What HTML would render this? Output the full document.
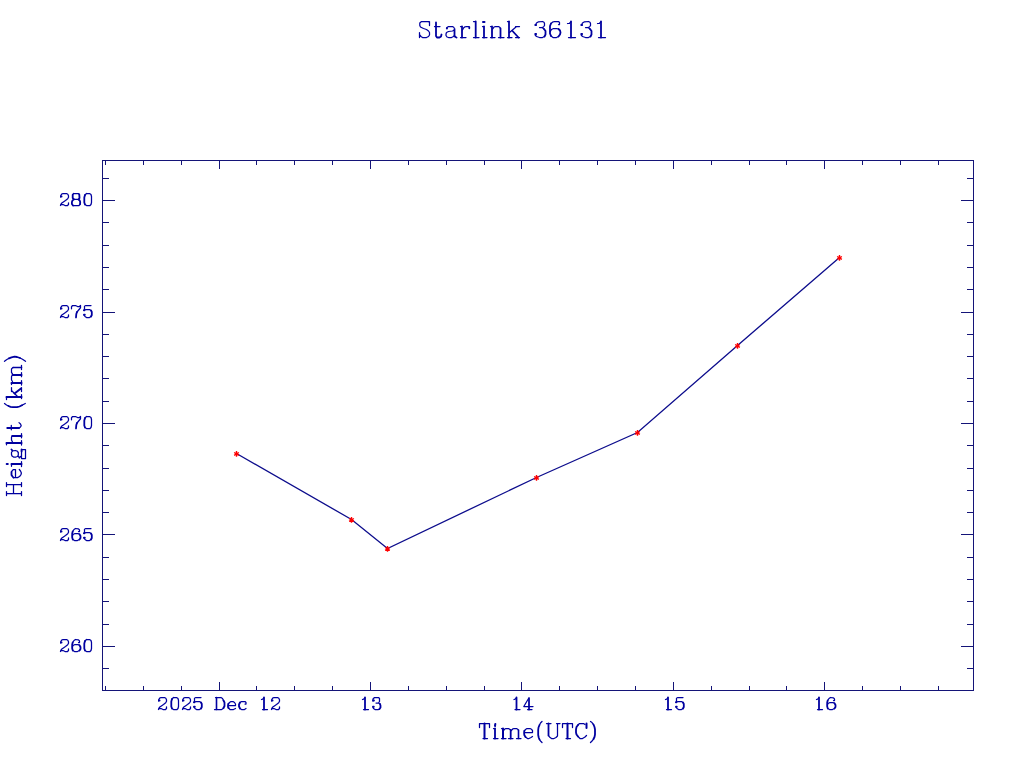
<!DOCTYPE html>
<html><head><meta charset="utf-8"><style>
html,body{margin:0;padding:0;background:#fff;width:1024px;height:768px;overflow:hidden}
svg{display:block}
</style></head><body>
<svg width="1024" height="768" viewBox="0 0 1024 768">
<rect width="1024" height="768" fill="#fff"/>
<path d="M102.5 160.5H973.5V690.5H102.5ZM105.5 691V686M105.5 160V165M143.5 691V686M143.5 160V165M181.5 691V686M181.5 160V165M219.5 691V682M219.5 160V169M256.5 691V686M256.5 160V165M294.5 691V686M294.5 160V165M332.5 691V686M332.5 160V165M370.5 691V682M370.5 160V169M408.5 691V686M408.5 160V165M446.5 691V686M446.5 160V165M484.5 691V686M484.5 160V165M521.5 691V682M521.5 160V169M559.5 691V686M559.5 160V165M597.5 691V686M597.5 160V165M635.5 691V686M635.5 160V165M673.5 691V682M673.5 160V169M711.5 691V686M711.5 160V165M749.5 691V686M749.5 160V165M786.5 691V686M786.5 160V165M824.5 691V682M824.5 160V169M862.5 691V686M862.5 160V165M900.5 691V686M900.5 160V165M938.5 691V686M938.5 160V165M102 178.5H109M974 178.5H967M102 200.5H115M974 200.5H961M102 222.5H109M974 222.5H967M102 245.5H109M974 245.5H967M102 267.5H109M974 267.5H967M102 289.5H109M974 289.5H967M102 312.5H115M974 312.5H961M102 334.5H109M974 334.5H967M102 356.5H109M974 356.5H967M102 378.5H109M974 378.5H967M102 401.5H109M974 401.5H967M102 423.5H115M974 423.5H961M102 445.5H109M974 445.5H967M102 468.5H109M974 468.5H967M102 490.5H109M974 490.5H967M102 512.5H109M974 512.5H967M102 534.5H115M974 534.5H961M102 557.5H109M974 557.5H967M102 579.5H109M974 579.5H967M102 601.5H109M974 601.5H967M102 624.5H109M974 624.5H967M102 646.5H115M974 646.5H961M102 668.5H109M974 668.5H967" stroke="#141478" stroke-width="1" fill="none" shape-rendering="crispEdges"/>
<polyline points="236.5,453.5 351.5,519.5 387.5,548.5 536.5,477.5 637.5,432.5 737.5,345.5 839.5,257.5" fill="none" stroke="#0c0c8c" stroke-width="1.3"/>
<path d="M236.5 451.09999999999997V456.7M234.1 452.5L238.9 455.29999999999995M234.1 455.29999999999995L238.9 452.5M351.5 517.1V522.6999999999999M349.1 518.5L353.9 521.3M349.1 521.3L353.9 518.5M387.5 546.1V551.6999999999999M385.1 547.5L389.9 550.3M385.1 550.3L389.9 547.5M536.5 475.09999999999997V480.7M534.1 476.5L538.9 479.29999999999995M534.1 479.29999999999995L538.9 476.5M637.5 430.09999999999997V435.7M635.1 431.5L639.9 434.29999999999995M635.1 434.29999999999995L639.9 431.5M737.5 343.09999999999997V348.7M735.1 344.5L739.9 347.29999999999995M735.1 347.29999999999995L739.9 344.5M839.5 255.09999999999997V260.7M837.1 256.5L841.9 259.29999999999995M837.1 259.29999999999995L841.9 256.5" stroke="#ff0000" stroke-width="1.4" fill="none"/>
<g fill="none" stroke="#0000a0" stroke-linecap="round" stroke-linejoin="round"><path d="M429.50 21.50L429.50 25.50M429.50 22.50L428.50 21.50L421.50 21.50L419.80 23.00L419.80 25.50L420.50 27.00L423.50 28.50L426.50 29.50L428.50 31.00L429.50 32.50L429.50 35.00L428.50 36.50L426.50 37.50L422.50 37.50L421.00 36.50L419.80 35.00M419.50 32.50L419.50 37.50M434.50 26.50L440.00 26.50M446.50 28.50L447.00 27.50L448.50 26.50L452.50 26.50L454.00 27.50M454.50 30.00L452.50 31.00L448.50 31.50L446.50 32.50L446.00 34.00L446.00 35.50L447.00 37.00L448.50 37.50L451.50 37.50L453.50 36.50L454.50 35.50M460.50 26.50L462.00 26.50M460.50 37.50L466.00 37.50M462.50 30.00L463.50 28.00L465.00 26.80L466.50 26.50L469.00 26.50M473.50 21.50L475.50 21.50M473.50 37.50L479.00 37.50M482.50 26.50L484.00 26.50M482.50 37.50L487.00 37.50M490.50 26.50L492.00 26.50M492.50 29.00L494.00 27.00L495.50 26.50L498.50 26.50L500.00 27.50L500.50 29.00M490.50 37.50L495.00 37.50M498.50 37.50L504.00 37.50M507.50 21.50L509.00 21.50M507.50 37.50L512.00 37.50M516.00 27.00L509.50 32.50M515.50 26.50L519.50 26.50M515.50 37.50L519.50 37.50M535.50 25.00L536.50 23.00L538.50 21.80L542.50 21.50L544.00 22.30L544.50 23.50L544.50 25.50L543.50 27.00L542.00 27.50L539.50 27.50M542.00 27.50L544.00 29.00M544.50 36.50L542.50 37.50L539.50 37.50L536.50 36.50L535.20 35.00M559.50 24.50L559.50 22.50L558.50 21.50L554.50 21.50L552.50 22.20L551.00 23.50M551.00 36.00L553.00 37.50L556.50 37.50L558.50 36.50M558.50 29.00L556.50 28.50L553.50 28.50L551.50 29.50L550.30 31.50M558.50 24.50L559.50 24.50M567.50 23.50L569.50 23.30L571.00 21.80M568.50 37.50L575.50 37.50M581.50 25.00L582.50 23.00L584.50 21.80L588.50 21.50L590.00 22.30L590.50 23.50L590.50 25.50L589.50 27.00L588.00 27.50L585.50 27.50M588.00 27.50L590.00 29.00M590.50 36.50L588.50 37.50L585.50 37.50L582.50 36.50L581.20 35.00M597.50 23.50L599.50 23.30L601.00 21.80M598.50 37.50L605.50 37.50M60.50 197.00L60.80 195.50L61.70 194.10L63.00 193.50L66.50 193.50L67.80 194.20L68.50 195.70L68.50 197.30L67.70 198.80L65.50 200.50L63.00 202.20L61.50 203.30L60.70 204.50L60.50 205.50M60.50 205.30L61.50 204.50L63.00 204.50L65.00 205.50L67.50 205.50L68.50 204.50L68.50 202.80M73.70 193.50L78.30 193.50L79.30 194.50M78.70 199.30L74.00 199.30M72.70 194.70L73.70 193.50M74.00 199.50L72.50 200.50M73.00 205.50L79.00 205.50L80.00 204.30M86.50 193.50L89.50 193.50L91.00 194.50L91.50 196.50L91.50 202.50L91.00 204.50L90.00 205.50L86.50 205.50L85.00 204.50M85.00 195.00L86.50 193.50M60.50 309.00L60.80 307.50L61.70 306.10L63.00 305.50L66.50 305.50L67.80 306.20L68.50 307.70L68.50 309.30L67.70 310.80L65.50 312.50L63.00 314.20L61.50 315.30L60.70 316.50L60.50 317.50M60.50 317.30L61.50 316.50L63.00 316.50L65.00 317.50L67.50 317.50L68.50 316.50L68.50 314.80M71.50 306.50L71.50 308.80M71.50 306.80L72.50 305.50L75.50 305.50L77.50 306.50L79.50 306.50L80.50 305.50M80.50 305.50L80.50 307.80L79.50 309.00M79.50 309.00L77.00 312.00M85.50 305.50L91.00 305.50M84.50 306.00L84.50 310.00M84.50 310.00L86.00 309.50L89.50 309.50L91.00 310.50M91.00 316.50L89.50 317.50L86.50 317.50L85.00 316.50L84.00 315.00M60.50 420.00L60.80 418.50L61.70 417.10L63.00 416.50L66.50 416.50L67.80 417.20L68.50 418.70L68.50 420.30L67.70 421.80L65.50 423.50L63.00 425.20L61.50 426.30L60.70 427.50L60.50 428.50M60.50 428.30L61.50 427.50L63.00 427.50L65.00 428.50L67.50 428.50L68.50 427.50L68.50 425.80M71.50 417.50L71.50 419.80M71.50 417.80L72.50 416.50L75.50 416.50L77.50 417.50L79.50 417.50L80.50 416.50M80.50 416.50L80.50 418.80L79.50 420.00M79.50 420.00L77.00 423.00M86.50 416.50L89.50 416.50L91.00 417.50L91.50 419.50L91.50 425.50L91.00 427.50L90.00 428.50L86.50 428.50L85.00 427.50M85.00 418.00L86.50 416.50M60.50 532.00L60.80 530.50L61.70 529.10L63.00 528.50L66.50 528.50L67.80 529.20L68.50 530.70L68.50 532.30L67.70 533.80L65.50 535.50L63.00 537.20L61.50 538.30L60.70 539.50L60.50 540.50M60.50 540.30L61.50 539.50L63.00 539.50L65.00 540.50L67.50 540.50L68.50 539.50L68.50 537.80M79.50 531.50L79.50 530.00L78.50 528.80L75.50 528.50L74.00 529.50L72.70 531.50M72.80 539.50L74.50 540.50L77.50 540.50L79.50 539.50M79.50 534.30L78.00 533.50L75.00 533.50L73.00 534.50L72.30 536.00M78.50 531.50L79.50 531.50M85.50 528.50L91.00 528.50M84.50 529.00L84.50 533.00M84.50 533.00L86.00 532.50L89.50 532.50L91.00 533.50M91.00 539.50L89.50 540.50L86.50 540.50L85.00 539.50L84.00 538.00M60.50 643.00L60.80 641.50L61.70 640.10L63.00 639.50L66.50 639.50L67.80 640.20L68.50 641.70L68.50 643.30L67.70 644.80L65.50 646.50L63.00 648.20L61.50 649.30L60.70 650.50L60.50 651.50M60.50 651.30L61.50 650.50L63.00 650.50L65.00 651.50L67.50 651.50L68.50 650.50L68.50 648.80M79.50 642.50L79.50 641.00L78.50 639.80L75.50 639.50L74.00 640.50L72.70 642.50M72.80 650.50L74.50 651.50L77.50 651.50L79.50 650.50M79.50 645.30L78.00 644.50L75.00 644.50L73.00 645.50L72.30 647.00M78.50 642.50L79.50 642.50M86.50 639.50L89.50 639.50L91.00 640.50L91.50 642.50L91.50 648.50L91.00 650.50L90.00 651.50L86.50 651.50L85.00 650.50M85.00 641.00L86.50 639.50M158.50 701.00L158.80 699.50L159.70 698.10L161.00 697.50L164.50 697.50L165.80 698.20L166.50 699.70L166.50 701.30L165.70 702.80L163.50 704.50L161.00 706.20L159.50 707.30L158.70 708.50L158.50 709.50M158.50 709.30L159.50 708.50L161.00 708.50L163.00 709.50L165.50 709.50L166.50 708.50L166.50 706.80M173.50 697.50L176.50 697.50L178.00 698.50L178.50 700.50L178.50 706.50L178.00 708.50L177.00 709.50L173.50 709.50L172.00 708.50M172.00 699.00L173.50 697.50M182.50 701.00L182.80 699.50L183.70 698.10L185.00 697.50L188.50 697.50L189.80 698.20L190.50 699.70L190.50 701.30L189.70 702.80L187.50 704.50L185.00 706.20L183.50 707.30L182.70 708.50L182.50 709.50M182.50 709.30L183.50 708.50L185.00 708.50L187.00 709.50L189.50 709.50L190.50 708.50L190.50 706.80M195.50 697.50L201.00 697.50M194.50 698.00L194.50 702.00M194.50 702.00L196.00 701.50L199.50 701.50L201.00 702.50M201.00 708.50L199.50 709.50L196.50 709.50L195.00 708.50L194.00 707.00M214.50 709.50L221.50 709.50M215.50 697.50L221.00 697.50M221.00 697.50L222.50 698.50L223.50 700.50M223.50 708.00L222.50 709.00L221.50 709.50M228.50 705.50L235.50 705.50L235.50 704.00L234.50 702.50L233.00 701.50L231.00 701.50L229.50 702.50L228.30 704.00M228.50 708.00L230.00 709.50L233.50 709.50L235.50 708.50M246.00 704.00L246.00 702.50L245.00 701.50L241.50 701.50L240.00 702.50M240.00 708.50L241.50 709.50L244.50 709.50L246.00 708.50M245.00 704.00L246.00 704.00M261.50 699.50L262.70 699.10L263.80 697.80M262.50 709.50L267.50 709.50M271.50 701.00L271.80 699.50L272.70 698.10L274.00 697.50L277.50 697.50L278.80 698.20L279.50 699.70L279.50 701.30L278.70 702.80L276.50 704.50L274.00 706.20L272.50 707.30L271.70 708.50L271.50 709.50M271.50 709.30L272.50 708.50L274.00 708.50L276.00 709.50L278.50 709.50L279.50 708.50L279.50 706.80M362.50 699.50L363.70 699.10L364.80 697.80M363.50 709.50L368.50 709.50M373.00 701.00L373.00 699.00L374.50 697.50L378.50 697.50L379.50 698.50L379.50 701.50L378.50 703.00L376.00 703.00M378.50 703.00L380.00 704.00M379.50 709.00L378.50 709.50L375.00 709.50L373.50 708.50L373.00 707.00M514.00 699.50L515.20 699.10L516.30 697.80M515.00 709.50L520.00 709.50M529.00 697.80L523.80 706.50M523.80 706.50L533.00 706.50M527.50 709.50L532.00 709.50M665.50 699.50L666.70 699.10L667.80 697.80M666.50 709.50L671.50 709.50M677.50 697.50L683.00 697.50M676.50 698.00L676.50 702.00M676.50 702.00L678.00 701.50L681.50 701.50L683.00 702.50M683.00 708.50L681.50 709.50L678.50 709.50L677.00 708.50L676.00 707.00M816.50 699.50L817.70 699.10L818.80 697.80M817.50 709.50L822.50 709.50M834.50 700.50L834.50 699.00L833.50 697.80L830.50 697.50L829.00 698.50L827.70 700.50M827.80 708.50L829.50 709.50L832.50 709.50L834.50 708.50M834.50 703.30L833.00 702.50L830.00 702.50L828.00 703.50L827.30 705.00M833.50 700.50L834.50 700.50M479.50 723.50L489.50 723.50M479.50 723.50L479.50 727.50M489.50 723.50L489.50 727.50M483.00 738.50L487.50 738.50M493.50 728.50L495.00 728.50M493.50 738.50L498.00 738.50M501.50 728.50L503.00 728.50M503.50 730.50L505.00 728.80L506.00 728.50L508.50 728.50L510.00 729.50L510.70 730.50M511.30 730.50L513.00 728.80L514.00 728.50L516.50 728.50L518.00 729.50L518.50 730.50M501.50 738.50L506.00 738.50M508.50 738.50L513.00 738.50M516.50 738.50L521.00 738.50M524.50 732.50L532.50 732.50L532.50 730.50L531.50 729.30L530.00 728.50L527.00 728.50L525.50 729.50L524.30 731.00M525.50 737.00L527.50 738.50L529.00 738.50L531.00 737.50L532.50 736.50M542.00 721.50L540.50 723.00L539.50 725.00M539.50 739.50L541.00 741.50L542.00 742.50M546.50 723.50L551.00 723.50M548.50 735.50L549.50 737.00L551.50 738.50L554.00 738.50L556.00 737.50L557.50 736.00L557.50 723.50M556.50 723.50L560.00 723.50M562.50 723.50L572.50 723.50M562.50 723.50L562.50 727.50M572.50 723.50L572.50 727.50M566.00 738.50L570.50 738.50M585.00 724.50L583.50 723.50L579.50 723.50L578.00 725.00M578.00 736.50L580.00 738.50L582.50 738.50L585.00 737.00L586.50 735.50M590.50 721.50L592.00 722.50L593.50 724.50M593.50 739.00L592.00 741.00L590.50 742.50M6.50 493.50L21.50 493.50M6.50 484.50L21.50 484.50M13.50 484.50L13.50 493.50M6.50 491.50L6.50 495.50M6.50 482.50L6.50 486.50M21.50 491.50L21.50 495.50M21.50 482.50L21.50 486.50M15.50 477.50L15.50 469.50M15.50 469.50L13.50 469.50L12.30 470.50L11.50 472.00M13.50 477.60L17.50 477.60L19.50 476.50L21.00 474.50L21.40 473.00L20.50 471.00L19.30 469.50M11.50 464.00L11.50 466.30M21.50 461.50L21.50 466.50M12.50 450.80L15.50 450.50L17.00 451.00L18.30 452.50L18.30 455.00L17.50 456.50L16.00 457.00L13.50 457.00L12.00 456.00L11.50 454.50L11.50 452.50L12.50 450.80M18.30 456.00L19.30 458.00L20.50 456.50L21.50 456.00M21.50 456.00L21.50 449.50L25.50 449.50L25.50 458.50L21.50 458.50L21.50 456.00M6.50 443.00L6.50 444.80M12.50 442.00L11.50 440.00L11.50 437.00L12.30 435.80M21.50 440.50L21.50 445.00M21.50 433.50L21.50 437.80M19.00 428.00L20.50 427.00L21.20 425.80L20.50 424.00L19.00 422.60M11.30 425.30L11.30 429.80M4.50 403.50L6.50 405.00L8.50 406.00M22.00 405.30L25.30 403.50M6.50 397.00L6.50 399.50M21.50 394.50L21.50 398.50M11.50 387.50L11.50 391.50M11.50 390.50L17.50 396.50M21.50 387.50L21.50 391.50M11.50 383.00L11.50 384.50M21.50 380.50L21.50 385.00M12.50 381.50L11.50 380.00L11.50 376.50L12.50 375.00M21.50 372.50L21.50 376.70M12.50 373.80L11.50 372.50L11.50 369.00L12.50 367.80L13.50 367.50M21.50 365.30L21.50 369.50M4.50 361.30L6.50 359.80L9.00 358.30M20.00 358.00L22.50 359.30L25.50 361.30" stroke-width="1.25"/><path d="M436.00 22.50L436.00 36.00L437.00 37.50L439.50 37.50L441.00 36.50L441.50 34.50M454.50 29.00L454.50 36.00L455.50 37.00L456.50 37.50M447.00 28.00L447.00 28.50M462.00 26.50L462.00 37.50M469.30 27.10L469.30 28.30M475.70 21.50L475.70 37.50M484.00 26.50L484.00 37.50M492.00 26.50L492.00 37.50M500.50 28.50L500.50 37.50M509.00 21.50L509.00 37.50M512.50 31.00L518.50 37.50M544.00 29.00L545.50 31.00L545.50 34.50L544.50 36.50M551.00 23.50L550.00 26.00L550.00 33.50L551.00 36.00M558.50 36.50L560.00 34.50L560.50 32.50L560.00 30.50L558.50 29.00M571.00 21.50L571.00 37.50M590.00 29.00L591.50 31.00L591.50 34.50L590.50 36.50M601.00 21.50L601.00 37.50M60.90 196.50L61.60 196.50M79.30 194.50L79.50 198.00L78.70 199.30M74.00 199.30L72.70 198.00L72.70 194.70M72.50 200.50L71.90 202.00L71.90 204.00L73.00 205.50M80.00 204.30L80.20 202.00L79.70 200.50L78.50 199.50M85.00 204.50L84.30 202.50L84.30 197.50L85.00 195.00M60.90 308.50L61.60 308.50M77.00 312.00L76.30 314.00L76.00 317.50M91.00 310.50L91.80 312.00L91.80 315.00L91.00 316.50M60.90 419.50L61.60 419.50M77.00 423.00L76.30 425.00L76.00 428.50M85.00 427.50L84.30 425.50L84.30 420.50L85.00 418.00M60.90 531.50L61.60 531.50M72.70 531.50L72.20 533.50L72.20 537.50L72.80 539.50M79.50 539.50L80.50 538.00L80.50 536.00L79.50 534.30M91.00 533.50L91.80 535.00L91.80 538.00L91.00 539.50M60.90 642.50L61.60 642.50M72.70 642.50L72.20 644.50L72.20 648.50L72.80 650.50M79.50 650.50L80.50 649.00L80.50 647.00L79.50 645.30M85.00 650.50L84.30 648.50L84.30 643.50L85.00 641.00M158.90 700.50L159.60 700.50M172.00 708.50L171.30 706.50L171.30 701.50L172.00 699.00M182.90 700.50L183.60 700.50M201.00 702.50L201.80 704.00L201.80 707.00L201.00 708.50M223.50 700.50L224.50 702.50L224.50 706.00L223.50 708.00M228.30 704.00L228.00 705.50L228.00 707.00L228.50 708.00M240.00 702.50L239.00 704.50L239.00 706.50L240.00 708.50M264.00 697.50L264.00 709.50M271.90 700.50L272.60 700.50M365.00 697.50L365.00 709.50M373.00 700.50L374.00 700.50M380.00 704.00L380.50 705.50L380.50 707.50L379.50 709.00M516.50 697.50L516.50 709.50M529.00 698.50L529.00 709.50M668.00 697.50L668.00 709.50M683.00 702.50L683.80 704.00L683.80 707.00L683.00 708.50M819.00 697.50L819.00 709.50M827.70 700.50L827.20 702.50L827.20 706.50L827.80 708.50M834.50 708.50L835.50 707.00L835.50 705.00L834.50 703.30M495.00 728.50L495.00 738.50M510.70 730.00L510.70 738.50M524.30 731.00L524.10 733.00L524.30 735.00L525.50 737.00M539.50 725.00L538.50 727.50L538.20 730.00L538.20 735.00L538.70 737.50L539.50 739.50M548.50 723.50L548.50 735.50M578.00 725.00L576.50 727.00L576.00 729.50L576.00 732.50L576.50 734.50L578.00 736.50M593.50 724.50L594.50 727.00L595.00 729.50L595.00 734.50L594.50 737.00L593.50 739.00M11.50 472.00L11.50 475.00L12.50 476.50L13.50 477.60M11.50 449.50L12.30 450.50M21.60 449.50L21.60 451.50M8.50 406.00L10.50 406.80L13.00 407.20L17.00 407.20L19.50 406.50L22.00 405.30M9.00 358.30L11.50 357.30L14.50 356.70L17.00 357.00L20.00 358.00" stroke-width="1.8"/><path d="M483.00 22.00L484.50 22.00M535.30 25.10L536.10 25.10M535.30 33.90L536.10 33.90M581.30 25.10L582.10 25.10M581.30 33.90L582.10 33.90M484.50 723.50L484.50 738.50M495.30 723.90L495.00 726.00M503.00 728.50L503.00 738.50M567.50 723.50L567.50 738.50M586.50 728.00L586.50 723.50M6.70 464.00L7.80 464.00M11.50 464.00L21.50 464.00M6.50 443.00L21.50 443.00M12.30 436.00L21.50 436.00M7.30 428.00L19.00 428.00M6.50 397.00L21.50 397.00M14.50 393.50L21.00 388.50M11.50 383.00L21.50 383.00M12.50 375.00L21.50 375.00" stroke-width="2"/><path d="M83.90 310.30L84.50 310.30M84.00 314.70L84.80 314.70M83.90 533.30L84.50 533.30M84.00 537.70L84.80 537.70M193.90 702.30L194.50 702.30M194.00 706.70L194.80 706.70M373.00 706.70L373.80 706.70M675.90 702.30L676.50 702.30M676.00 706.70L676.80 706.70" stroke-width="1.9"/><path d="M216.50 697.50L216.50 709.50M518.50 730.00L518.50 738.50M13.00 367.50L21.50 367.50" stroke-width="1.6"/></g>
</svg>
</body></html>
